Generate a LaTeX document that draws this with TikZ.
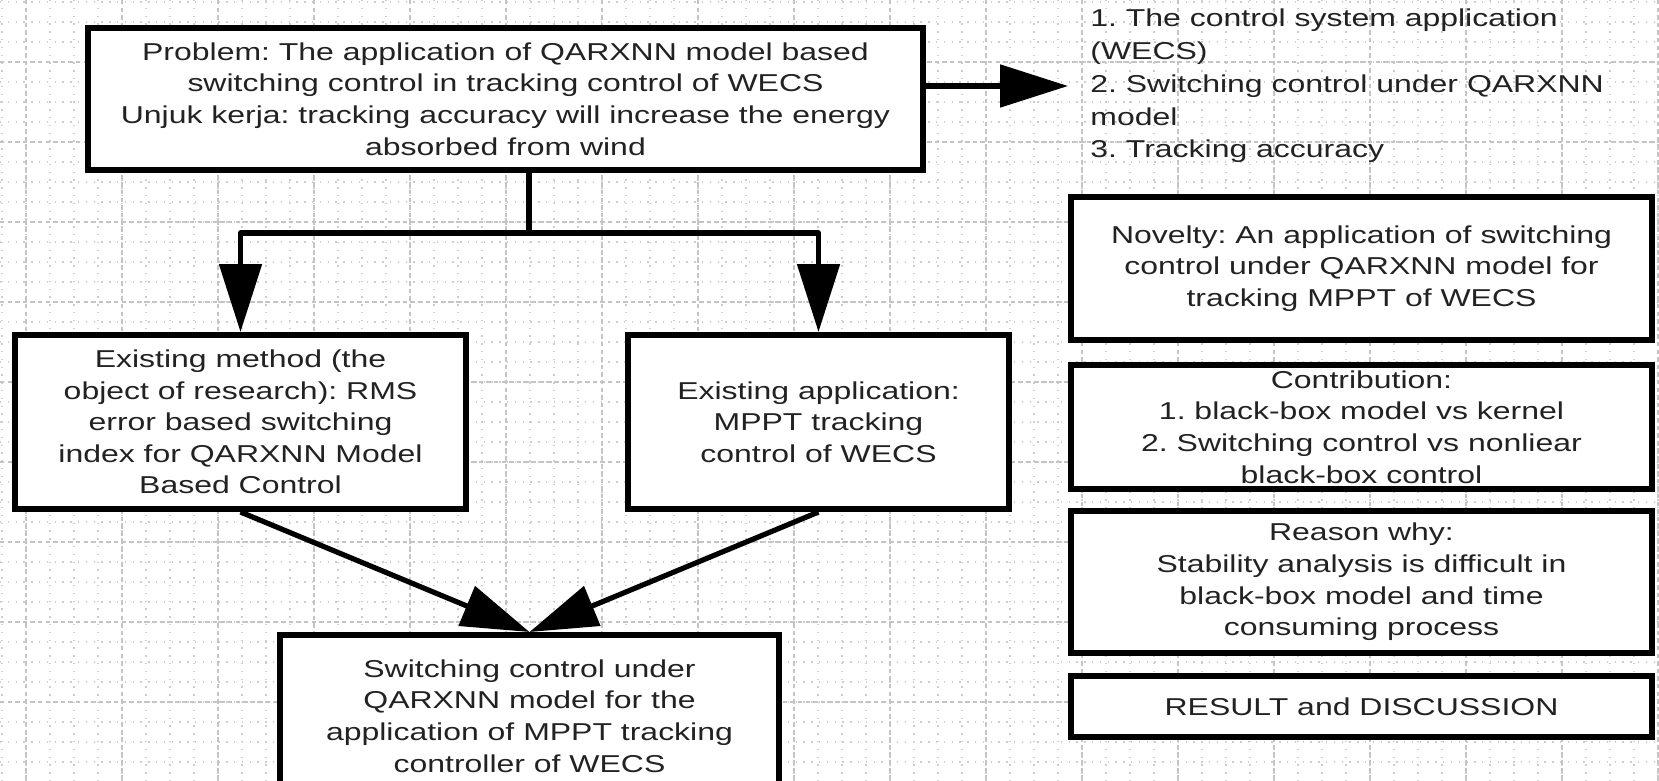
\documentclass[tikz,border=0pt]{standalone}
\usepackage{fontspec}
\setmainfont{Liberation Sans}[FakeStretch=1.31]
\frenchspacing
\usetikzlibrary{arrows.meta}
\definecolor{txt}{HTML}{222222}
\definecolor{gridc}{HTML}{C4C4C4}
\definecolor{gridm}{HTML}{CDCDCD}
\begin{document}
\begin{tikzpicture}[x=0.5pt,y=-0.5pt,
  minorline/.style={gridm,line width=0.6pt,dash pattern=on 0.7pt off 3.2pt},
  majorline/.style={gridc,line width=0.8pt,dash pattern=on 2.2pt off 1.6pt},
  box/.style={draw=black,line width=3pt,fill=white,align=center,inner sep=0pt,
    font=\fontsize{12.2}{15.8}\selectfont,text=txt},
  conn/.style={line width=2.6pt,line join=round,black},
  arr/.style={conn,-{Triangle[length=34pt,width=21pt]}}]
\useasboundingbox (0,0) rectangle (1659,781);
\clip (0,0) rectangle (1659,781);
\fill[white] (0,0) rectangle (1659,781);
% grid
\foreach \i in {0,...,69} \draw[minorline] ({2+24*\i},0) -- ({2+24*\i},781);
\foreach \j in {0,...,39} \draw[minorline] (0,{2+20*\j}) -- (1659,{2+20*\j});
\foreach \i in {0,...,17} \draw[majorline] ({26+96*\i},0) -- ({26+96*\i},781);
\foreach \j in {0,...,9} \draw[majorline] (0,{62+80*\j}) -- (1659,{62+80*\j});
% nodes
\node[box,minimum width=417.5pt,minimum height=71pt] (top) at (505.5,99)
 {Problem: The application of QARXNN model based\\switching control in tracking control of WECS\\Unjuk kerja: tracking accuracy will increase the energy\\absorbed from wind};
\node[anchor=west,align=left,inner xsep=11pt,inner ysep=0pt,font=\fontsize{12.2}{16.4}\selectfont,text=txt] (list) at (1068,86)
 {1. The control system application\\(WECS)\\2. Switching control under QARXNN\\model\\3. Tracking accuracy};
\node[box,minimum width=225.5pt,minimum height=87pt] (left) at (240.5,422)
 {Existing method (the\\object of research): RMS\\error based switching\\index for QARXNN Model\\Based Control};
\node[box,minimum width=190.5pt,minimum height=87pt] (mid) at (818.5,422)
 {Existing application:\\MPPT tracking\\control of WECS};
\node[box,minimum width=249.5pt,minimum height=81pt] (bottom) at (529.5,716)
 {Switching control under\\QARXNN model for the\\application of MPPT tracking\\controller of WECS};
\node[box,minimum width=290.5pt,minimum height=71.5pt] (novelty) at (1361.5,268.5)
 {Novelty: An application of switching\\control under QARXNN model for\\tracking MPPT of WECS};
\node[box,minimum width=290.5pt,minimum height=62pt] (contrib) at (1361.5,427)
 {Contribution:\\1. black-box model vs kernel\\2. Switching control vs nonliear\\black-box control};
\node[box,minimum width=290.5pt,minimum height=71pt] (reason) at (1361.5,582)
 {Reason why:\\Stability analysis is difficult in\\black-box model and time\\consuming process};
\node[box,minimum width=290.5pt,minimum height=30.5pt] (result) at (1361.5,706.5)
 {RESULT and DISCUSSION};
% connectors
\coordinate (split) at (529,233);
\draw[arr] (top.east |- list.west) -- (list.west);
\draw[conn] (top.south -| split) -- (split);
\draw[arr] (split) -| (left.north);
\draw[arr] (split) -| (mid.north);
\draw[arr] (left.south) -- (bottom.north);
\draw[arr] (mid.south) -- (bottom.north);
\end{tikzpicture}
\end{document}
